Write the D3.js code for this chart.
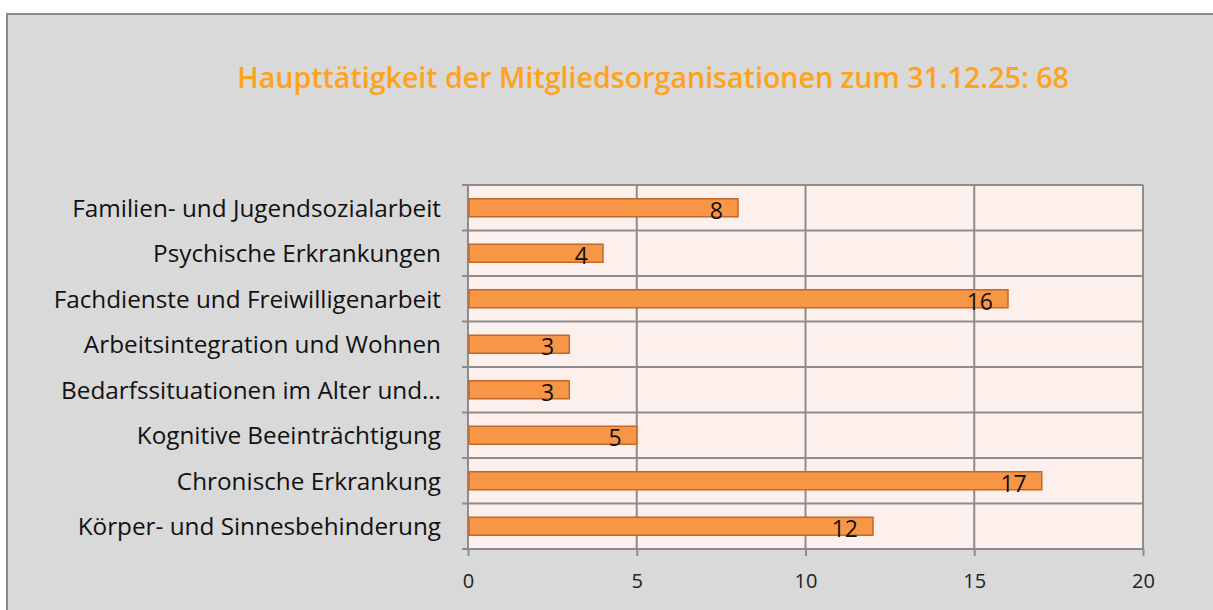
<!DOCTYPE html>
<html>
<head>
<meta charset="utf-8">
<script src="https://cdn.jsdelivr.net/npm/d3@7"></script>
<style>
  body { margin: 0; background: #ffffff; }
  svg { display: block; }
</style>
</head>
<body>
<div id="chart"></div>
<script>
// chart data
const title = 'Haupttätigkeit der Mitgliedsorganisationen zum 31.12.25: 68'
const categories = [
    'Familien- und Jugendsozialarbeit',
    'Psychische Erkrankungen',
    'Fachdienste und Freiwilligenarbeit',
    'Arbeitsintegration und Wohnen',
    'Bedarfssituationen im Alter und…',
    'Kognitive Beeinträchtigung',
    'Chronische Erkrankung',
    'Körper- und Sinnesbehinderung'
]
const values = [8, 4, 16, 3, 3, 5, 17, 12]
const xTicks = [0, 5, 10, 15, 20]

const width = 1213, height = 610
const plot = { left: 468, right: 1143, top: 185, bottom: 549 }
const font = '"Open Sans", "Noto Sans", sans-serif'

const svg = d3.select('#chart').append('svg')
    .attr('width', width)
    .attr('height', height)

// outer frame
svg.append('rect')
    .attr('x', 7).attr('y', 14)
    .attr('width', width + 20).attr('height', height + 20)
    .attr('fill', '#d9d9d9')
    .attr('stroke', '#8a8a8a')
    .attr('stroke-width', 2)

svg.append('text')
    .attr('x', 653).attr('y', 88)
    .attr('text-anchor', 'middle')
    .attr('font-family', font)
    .attr('font-size', 28.6)
    .attr('font-weight', 600)
    .attr('fill', '#ffa31a')
    .text(title)

const x = d3.scaleLinear().domain([0, 20]).range([plot.left, plot.right])
const y = d3.scaleBand().domain(categories).range([plot.top, plot.bottom])

// plot background
svg.append('rect')
    .attr('x', plot.left).attr('y', plot.top)
    .attr('width', plot.right - plot.left).attr('height', plot.bottom - plot.top)
    .attr('fill', '#fdf0ec')

// vertical grid lines
svg.append('g').selectAll('line')
    .data(xTicks)
    .join('line')
    .attr('x1', d => x(d)).attr('x2', d => x(d))
    .attr('y1', plot.top).attr('y2', plot.bottom)
    .attr('stroke', '#8c8c8c')
    .attr('stroke-width', 2)

// x axis
svg.append('g')
    .attr('transform', 'translate(0,' + plot.bottom + ')')
    .call(d3.axisBottom(x).tickValues(xTicks).tickSize(7).tickPadding(18))
    .call(g => g.select('.domain').remove())
    .call(g => g.selectAll('line').attr('stroke', '#8c8c8c').attr('stroke-width', 2))
    .call(g => g.selectAll('text')
        .attr('font-family', font)
        .attr('font-size', 20)
        .attr('fill', '#222'))

// horizontal separators between categories
const seps = categories.map(c => y(c)).concat([plot.bottom])
svg.append('g').selectAll('line')
    .data(seps)
    .join('line')
    .attr('x1', plot.left - 6).attr('x2', plot.right)
    .attr('y1', d => d).attr('y2', d => d)
    .attr('stroke', '#8c8c8c')
    .attr('stroke-width', 2)

// bars
const barH = 18
svg.append('g').selectAll('rect')
    .data(values)
    .join('rect')
    .attr('x', x(0) + 1)
    .attr('y', (d, i) => y(categories[i]) + y.bandwidth() / 2 - barH / 2)
    .attr('width', d => x(d) - x(0) - 1)
    .attr('height', barH)
    .attr('fill', '#f79646')
    .attr('stroke', '#c0692b')
    .attr('stroke-width', 1.5)

// value labels
svg.append('g').selectAll('text')
    .data(values)
    .join('text')
    .attr('x', d => x(d) - 15)
    .attr('y', (d, i) => y(categories[i]) + y.bandwidth() / 2 + 11)
    .attr('text-anchor', 'end')
    .attr('font-family', font)
    .attr('font-size', 23)
    .attr('fill', '#111')
    .text(d => d)

// category labels
svg.append('g').selectAll('text')
    .data(categories)
    .join('text')
    .attr('x', 441)
    .attr('y', d => y(d) + y.bandwidth() / 2 + 9)
    .attr('text-anchor', 'end')
    .attr('font-family', font)
    .attr('font-size', 24.3)
    .attr('fill', '#111')
    .text(d => d)
</script>
</body>
</html>
